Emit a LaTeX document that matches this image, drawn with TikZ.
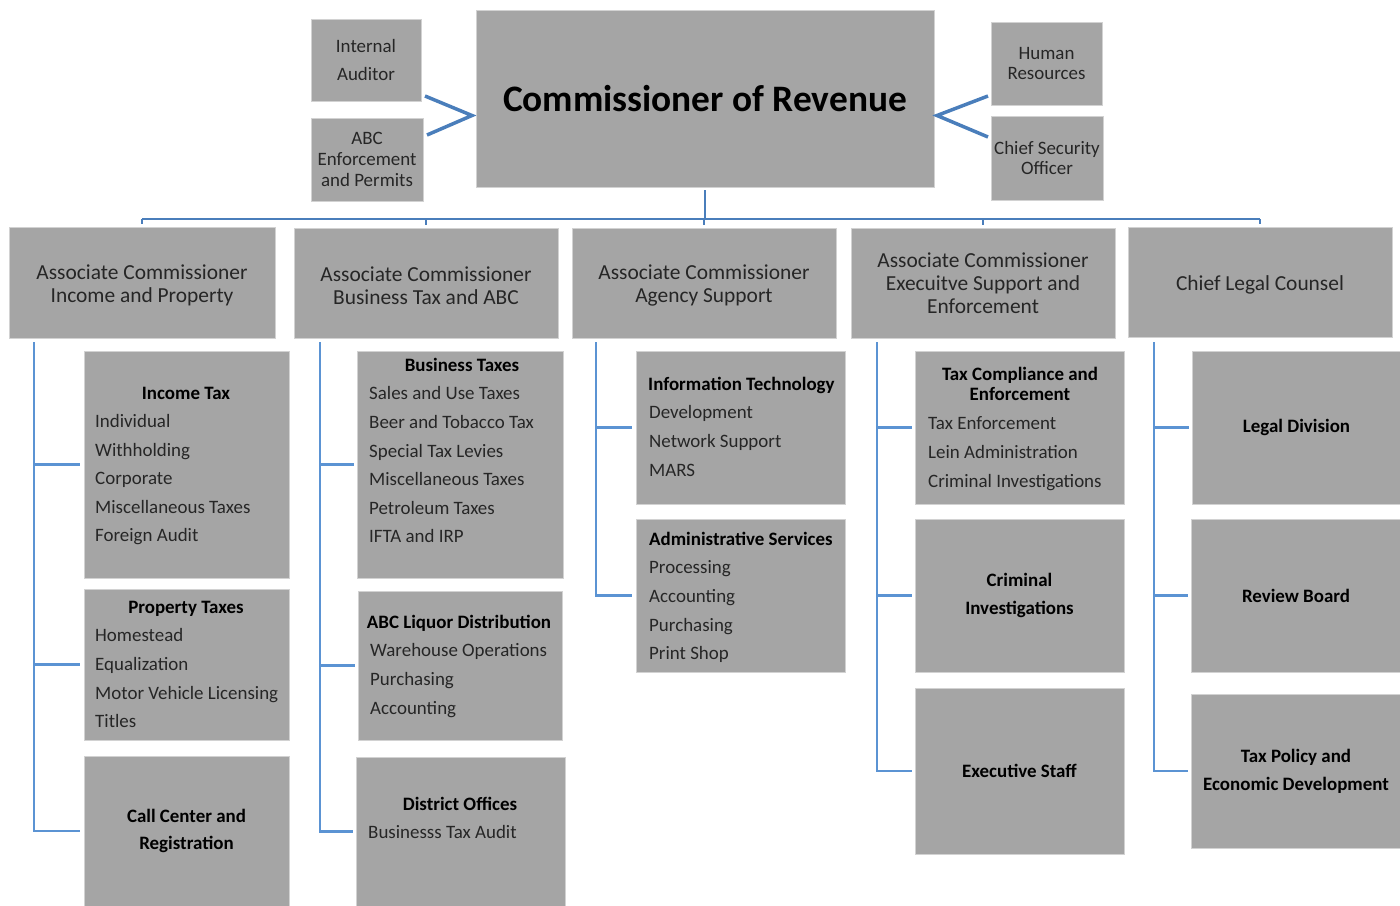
\documentclass[tikz,border=0pt]{standalone}
\usepackage{fontspec}
\setmainfont{Carlito}
\usetikzlibrary{calc}
\definecolor{boxgray}{HTML}{A5A5A5}
\definecolor{boxedge}{HTML}{D2D2D2}
\definecolor{linkblue}{HTML}{4A7EBB}
\definecolor{colblue}{HTML}{5B93D3}
\definecolor{txt}{HTML}{262626}
\tikzset{
  box/.style={fill=boxgray, draw=boxedge, line width=1bp, inner sep=0pt, outer sep=0pt, align=center, text=black},
  bus/.style={draw=linkblue, line width=2.6bp},
  colline/.style={draw=colblue, line width=2.2bp},
  chev/.style={draw=linkblue, line width=3.5bp, line join=miter},
  itm/.style={font=\fontsize{19}{21}\selectfont, text=txt, inner sep=0pt, anchor=mid west, yshift=-4.5bp},
  hd/.style={font=\fontsize{19}{21}\selectfont\bfseries, text=black, inner sep=0pt, anchor=mid, yshift=-4.5bp},
  hdl/.style={hd, anchor=mid west},
  top/.style={font=\fontsize{19}{21}\selectfont, text=txt},
  lvtwo/.style={font=\fontsize{21.5}{23}\selectfont, text=txt},
  lvtxt/.style={font=\fontsize{21.5}{23}\selectfont, text=txt, align=center, inner sep=0pt, yshift=-2.5bp},
  lvthree/.style={font=\fontsize{19}{28}\selectfont\bfseries},
}
\newcommand\mkbox[7][]{\node[box,#1, minimum width={(#5-#3)*1bp}, minimum height={(#6-#4)*1bp}] (#2) at ({(#3+#5)/2},{(#4+#6)/2}) {#7};}
\newcommand\mklist[5]{\foreach \itemtext [count=\i] in {#5} {\node[itm] (#1-\i) at (#2,{#3+(\i-1)*#4}) {\itemtext};}}
\begin{document}
\begin{tikzpicture}[x=1bp,y=-1bp]
\useasboundingbox (0,0) rectangle (1400,905);
% top level
\mkbox[font=\fontsize{37.5}{40}\selectfont\bfseries]{comm}{476}{10}{934}{187}{Commissioner of Revenue}
\mkbox[top,font=\fontsize{19}{28}\selectfont]{ia}{311}{19}{421}{101}{Internal\\Auditor}
\mkbox[top]{abc}{311}{118}{423}{201}{ABC\\Enforcement\\and Permits}
\mkbox[top,font=\fontsize{19}{20}\selectfont]{hr}{991}{22}{1102}{105}{Human\\Resources}
\mkbox[top]{cso}{991}{116}{1103}{200}{Chief Security\\Officer}
% second level
\mkbox{l2a}{9}{227}{275}{338}{}
\mkbox{l2b}{294}{228}{558}{338}{}
\mkbox{l2c}{572}{228}{836}{338}{}
\mkbox[lvtwo]{l2d}{851}{228}{1115}{338}{Associate Commissioner\\Execuitve Support and\\Enforcement}
\mkbox{l2e}{1128}{227}{1392}{337}{}
\node[lvtxt] (l2at) at (l2a) {Associate Commissioner\\Income and Property};
\node[lvtxt] (l2bt) at (l2b) {Associate Commissioner\\Business Tax and ABC};
\node[lvtxt] (l2ct) at (l2c) {Associate Commissioner\\Agency Support};
\node[lvtxt] (l2et) at (l2e) {Chief Legal Counsel};
% third level boxes
\mkbox{inc}{84}{351}{289}{578}{}
\mkbox{prop}{84}{589}{289}{740}{}
\mkbox[lvthree]{call}{84}{756}{289}{906}{Call Center and\\Registration}
\mkbox{btax}{357}{351}{563}{578}{}
\mkbox{liq}{358}{591}{562}{740}{}
\mkbox{dist}{356}{757}{565}{906}{}
\mkbox{itech}{636}{351}{845}{504}{}
\mkbox{adm}{636}{519}{845}{672}{}
\mkbox{tce}{915}{351}{1124}{504}{}
\mkbox[lvthree]{crim}{915}{519}{1124}{672}{Criminal\\Investigations}
\mkbox[lvthree]{exec}{915}{688}{1124}{854}{Executive Staff}
\mkbox[lvthree]{legal}{1192}{351}{1401}{504}{Legal Division}
\mkbox[lvthree]{review}{1191}{519}{1401}{672}{Review Board}
\mkbox[lvthree]{policy}{1191}{694}{1401}{848}{Tax Policy and\\Economic Development}
% third level texts
\node[hd] (incH) at (186,393) {Income Tax};
\mklist{incL}{95}{421}{28.5}{Individual,Withholding,Corporate,Miscellaneous Taxes,Foreign Audit}
\node[hd] (propH) at (186,607) {Property Taxes};
\mklist{propL}{95}{635}{28.7}{Homestead,Equalization,Motor Vehicle Licensing,Titles}
\node[hd] (btaxH) at (462,365) {Business Taxes};
\mklist{btaxL}{369}{393}{28.6}{Sales and Use Taxes,Beer and Tobacco Tax,Special Tax Levies,Miscellaneous Taxes,Petroleum Taxes,IFTA and IRP}
\node[hd] (liqH) at (459,622) {ABC Liquor Distribution};
\mklist{liqL}{370}{650}{29}{Warehouse Operations,Purchasing,Accounting}
\node[hd] (distH) at (460,804) {District Offices};
\mklist{distL}{368}{832}{28}{Businesss Tax Audit}
\node[hdl] (itechH) at (648,384) {Information Technology};
\mklist{itechL}{649}{412}{29}{Development,Network Support,MARS}
\node[hdl] (admH) at (649,539) {Administrative Services};
\mklist{admL}{649}{567}{28.7}{Processing,Accounting,Purchasing,Print Shop}
\node[hd] (tceH1) at (1020,374) {Tax Compliance and};
\node[hd] (tceH2) at (1020,394) {Enforcement};
\mklist{tceL}{928}{423}{29}{Tax Enforcement,Lein Administration,Criminal Investigations}
% bus connectors
\coordinate (bus) at (0,219);
\draw[bus, shorten <=3bp] (comm.south) -- (comm.south |- bus);
\draw[bus] (l2a.north |- bus) -- (l2e.north |- bus);
\foreach \n in {l2a,l2b,l2c,l2d,l2e} {\draw[bus, shorten >=3bp] (\n.north |- bus) -- (\n.north);}
% chevrons
\draw[chev] ([shift={(4,-5)}]ia.south east) -- ([shift={(-4,17)}]comm.west) -- ([shift={(4,17)}]abc.north east);
\draw[chev] ([shift={(-3,-9)}]hr.south west) -- ([shift={(3,17)}]comm.east) -- ([shift={(-3,21)}]cso.north west);
% column connectors
\coordinate (c1) at ($(l2a.south west)+(25,4)$);
\coordinate (c2) at ($(l2b.south west)+(26,4)$);
\coordinate (c3) at ($(l2c.south west)+(24,4)$);
\coordinate (c4) at ($(l2d.south west)+(26,4)$);
\coordinate (c5) at ($(l2e.south west)+(26,5)$);
\foreach \b in {inc,prop,call} {\draw[colline, shorten >=4bp] (c1) |- (\b.west);}
\foreach \b in {btax,liq,dist} {\draw[colline, shorten >=3bp] (c2) |- (\b.west);}
\foreach \b in {itech,adm} {\draw[colline, shorten >=4bp] (c3) |- (\b.west);}
\foreach \b in {tce,crim,exec} {\draw[colline, shorten >=3bp] (c4) |- (\b.west);}
\foreach \b in {legal,review,policy} {\draw[colline, shorten >=3bp] (c5) |- (\b.west);}
\end{tikzpicture}
\end{document}
